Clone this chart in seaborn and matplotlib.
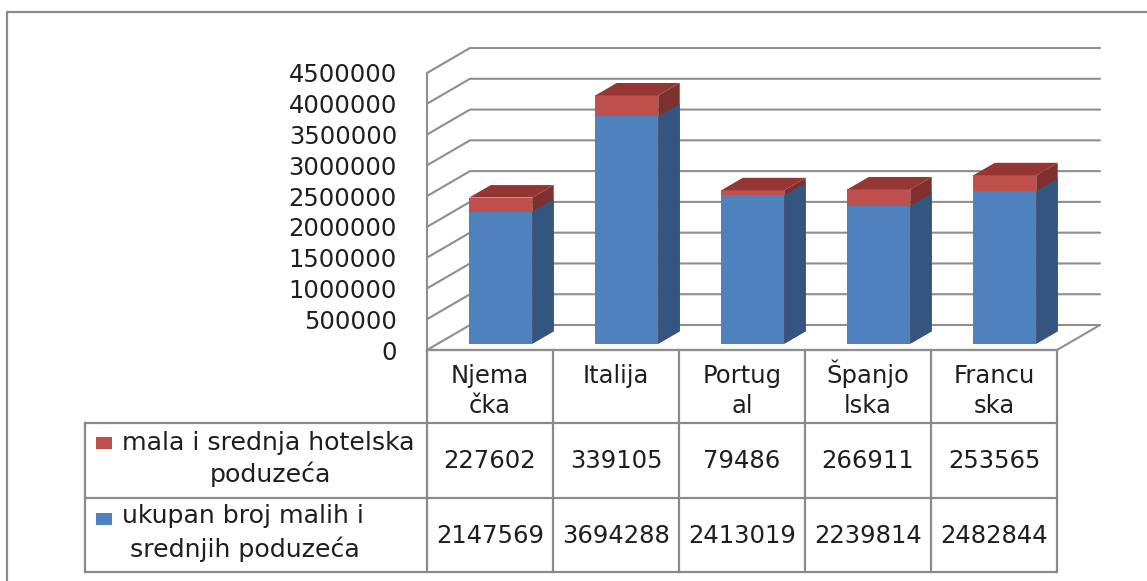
import numpy as np
import pandas as pd
import matplotlib
matplotlib.use("Agg")
import matplotlib.pyplot as plt
import seaborn as sns
from matplotlib import transforms
from matplotlib.patches import Polygon, Rectangle

# ---------------- data ----------------
categories = ["Njemačka", "Italija", "Portugal", "Španjolska", "Francuska"]
header_lines = [["Njema", "čka"], ["Italija"], ["Portug", "al"], ["Španjo", "lska"], ["Francu", "ska"]]
hotel_values = [227602, 339105, 79486, 266911, 253565]          # mala i srednja hotelska poduzeća
total_values = [2147569, 3694288, 2413019, 2239814, 2482844]    # ukupan broj malih i srednjih poduzeća
series_labels = [["mala i srednja hotelska", "poduzeća"],
                 ["ukupan broj malih i", "srednjih poduzeća"]]
y_ticks = [0, 500000, 1000000, 1500000, 2000000, 2500000, 3000000, 3500000, 4000000, 4500000]

# ---------------- style ----------------
RED, RED_SIDE, RED_TOP = "#c0504d", "#7f302e", "#943634"
BLUE, BLUE_SIDE = "#4f81bd", "#34557f"
GRID = "#8e8e8e"
TEXT = "#1e1e1e"
FS = 17.5
FS_LAB = 18.2

sns.set_style("white")
plt.rcParams["font.family"] = ["DejaVu Sans"]

W, H = 1147, 581
fig = plt.figure(figsize=(W / 100, H / 100), dpi=100)
fig.patch.set_facecolor("white")

# overlay axes in pixel coordinates (table / frame)
ov = fig.add_axes([0, 0, 1, 1])
ov.set_xlim(0, W)
ov.set_ylim(H, 0)
ov.axis("off")

# main axes = front plane of the 3D box
ax = fig.add_axes([427 / W, 1 - 350 / H, 630 / W, 277 / H])
ax.patch.set_visible(False)

df = pd.DataFrame({"country": categories,
                   "stack_top": np.add(total_values, hotel_values),
                   "base": total_values})
sns.barplot(data=df, x="country", y="stack_top", color=RED, saturation=1, width=0.5,
            errorbar=None, linewidth=0, ax=ax, zorder=4)
sns.barplot(data=df, x="country", y="base", color=BLUE, saturation=1, width=0.5,
            errorbar=None, linewidth=0, ax=ax, zorder=4)

ax.set_xlim(-0.5, len(categories) - 0.5)
ax.set_ylim(0, 4500000)
ax.set_yticks(y_ticks)
ax.set_yticklabels([str(t) for t in y_ticks], fontsize=FS, color=TEXT)
ax.tick_params(axis="y", length=0, pad=21.6)
ax.set_xticks([])
ax.set_xlabel("")
ax.set_ylabel("")
for s in ax.spines.values():
    s.set_visible(False)

# depth of the box (category units, value units)
DX, DY = 0.341, 406000
FX, FY = 0.25 * DX, 0.25 * DY     # bar front face offset
BX, BY = 0.5 * DX, 0.5 * DY       # bar depth

x0w, x1w = -0.5, len(categories) - 0.5
# left wall: front edge + diagonals, back wall gridlines
ax.plot([x0w, x0w], [0, y_ticks[-1]], color=GRID, lw=1.5, clip_on=False, zorder=1)
for t in y_ticks:
    ax.plot([x0w, x0w + DX, x1w + DX], [t, t + DY, t + DY], color=GRID, lw=1.5,
            clip_on=False, zorder=1, solid_joinstyle="miter")
# floor
ax.plot([x0w, x1w, x1w + DX], [0, 0, DY], color=GRID, lw=1.5, clip_on=False, zorder=1)

# 3D bars
n = len(categories)
bars = list(ax.patches)
red_bars, blue_bars = bars[:n], bars[n:]
for group, side_col in ((red_bars, RED_SIDE), (blue_bars, BLUE_SIDE)):
    for p in group:
        p.set_transform(transforms.Affine2D().translate(FX, FY) + ax.transData)
        p.set_clip_on(False)
        xl = p.get_x() + FX
        xr = p.get_x() + p.get_width() + FX
        yb = p.get_y() + FY
        yt = p.get_y() + p.get_height() + FY
        side = Polygon([(xr, yb), (xr + BX, yb + BY), (xr + BX, yt + BY), (xr, yt)],
                       closed=True, facecolor=side_col, edgecolor="none",
                       clip_on=False, zorder=4)
        ax.add_patch(side)
        if side_col == RED_SIDE:
            top = Polygon([(xl, yt), (xr, yt), (xr + BX, yt + BY), (xl + BX, yt + BY)],
                          closed=True, facecolor=RED_TOP, edgecolor="none",
                          clip_on=False, zorder=4)
            ax.add_patch(top)

# ---------------- data table ----------------
bt = transforms.blended_transform_factory(ax.transData, ov.transData)
TL = dict(color="#8a8a8a", lw=1.6, solid_capstyle="projecting")
y_head, y_r1, y_r2, y_bot = 350, 423, 498, 572
x_right_px = ax.transData.transform((x1w, 0))[0]
for k in range(n + 1):
    ov.plot([k - 0.5, k - 0.5], [y_head, y_bot], transform=bt, **TL)
ov.plot([x0w, x1w], [y_head, y_head], transform=bt, **TL)
for yy in (y_r1, y_r2, y_bot):
    ov.plot([85, x_right_px], [yy, yy], **TL)
ov.plot([85, 85], [y_r1, y_bot], **TL)

for i, lines in enumerate(header_lines):
    for j, s in enumerate(lines):
        ov.text(i, 383 + 30 * j, s, transform=bt, ha="center", va="baseline",
                fontsize=FS, color=TEXT)
for i in range(n):
    ov.text(i, 468, str(hotel_values[i]), transform=bt, ha="center", va="baseline",
            fontsize=FS, color=TEXT)
    ov.text(i, 543, str(total_values[i]), transform=bt, ha="center", va="baseline",
            fontsize=FS, color=TEXT)

# row labels with legend keys
for (l1, l2), col, ysq, yb1, yb2, xc2 in ((series_labels[0], RED, 437, 450, 482, 270),
                                          (series_labels[1], BLUE, 513, 523, 557, 245)):
    ov.add_patch(Rectangle((96, ysq), 16, 12, facecolor=col, edgecolor="none"))
    ov.text(122, yb1, l1, ha="left", va="baseline", fontsize=FS_LAB, color=TEXT)
    ov.text(xc2, yb2, l2, ha="center", va="baseline", fontsize=FS_LAB, color=TEXT)

# outer frame (left and top edges visible)
ov.plot([7, 7], [H, 12], color="#8a8a8a", lw=1.6)
ov.plot([7, W], [12, 12], color="#8a8a8a", lw=1.6)

fig.savefig("out.png", dpi=100)
